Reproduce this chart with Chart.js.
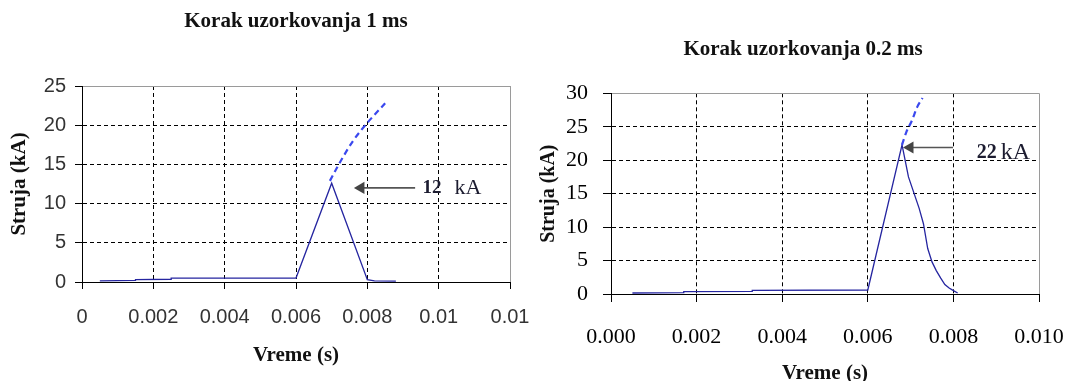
<!DOCTYPE html>
<html lang="sr">
<head>
    <meta charset="UTF-8">
    <title>Korak uzorkovanja</title>
    <script src="https://cdn.jsdelivr.net/npm/chart.js"></script>
    <style>
        body { margin: 0; background: #fff; }
        .wrap { position: relative; width: 1069px; height: 381px; overflow: hidden; }
        .box { position: absolute; top: 0; height: 381px; }
        #leftBox { left: 0; width: 535px; }
        #rightBox { left: 535px; width: 534px; }
    </style>
</head>
<body>
<div class="wrap">
    <div class="box" id="leftBox"><canvas id="leftChart" width="535" height="381"></canvas></div>
    <div class="box" id="rightBox"><canvas id="rightChart" width="534" height="381"></canvas></div>
</div>
<script>
// ---- left chart: 1 ms step ----
const leftTitle = 'Korak uzorkovanja 1 ms';
const leftTime = [0.0005, 0.0015, 0.0015, 0.0025, 0.0025, 0.006, 0.007, 0.008, 0.0082, 0.0088];
const leftCurrent = [0.15, 0.2, 0.3, 0.35, 0.5, 0.5, 12.6, 0.3, 0.15, 0.12];
const leftExtTime = [0.00695, 0.0072, 0.0076, 0.008, 0.0085];
const leftExtCurrent = [12.9, 15.0, 18.0, 20.3, 22.8];
const leftArrowX = [0.00934, 0.00782];
const leftArrowY = [12, 12];
const leftXTicks = [0, 0.002, 0.004, 0.006, 0.008, 0.010, 0.012];
const leftXLabels = ['0', '0.002', '0.004', '0.006', '0.008', '0.01', '0.01'];
const leftYMax = 25;

// ---- right chart: 0.2 ms step ----
const rightTitle = 'Korak uzorkovanja 0.2 ms';
const rightTime = [0.0005, 0.0017, 0.0017, 0.0033, 0.0033, 0.006, 0.0068, 0.00695, 0.0072, 0.0073, 0.0074, 0.0075, 0.0076, 0.0077, 0.0078, 0.0079, 0.008, 0.0081];
const rightCurrent = [0.15, 0.2, 0.35, 0.4, 0.55, 0.6, 22.3, 17.5, 12.8, 10.5, 6.8, 4.8, 3.5, 2.4, 1.4, 0.9, 0.5, 0.15];
const rightExtTime = [0.0068, 0.0069, 0.00703, 0.00715, 0.00728];
const rightExtCurrent = [22.3, 24.2, 25.9, 27.9, 29.3];
const rightArrowX = [0.00799, 0.006986];
const rightArrowY = [21.9, 21.9];
const rightXTicks = [0, 0.002, 0.004, 0.006, 0.008, 0.010];
const rightXLabels = ['0.000', '0.002', '0.004', '0.006', '0.008', '0.010'];
const rightYMax = 30;

const xTitle = 'Vreme (s)';
const yTitle = 'Struja (kA)';

const serif = '"Liberation Serif", "Times New Roman", serif';
const sans = '"Liberation Sans", Arial, sans-serif';

function pts(xs, ys) {
    return xs.map((v, i) => ({ x: v, y: ys[i] }));
}

// text next to the arrow ("12 kA")
const notePlugin = {
    id: 'note',
    afterDatasetsDraw(chart, args, opts) {
        const ctx = chart.ctx;
        const px = chart.scales.x.getPixelForValue(opts.x);
        const py = chart.scales.y.getPixelForValue(opts.y);
        ctx.save();
        ctx.textBaseline = 'middle';
        ctx.textAlign = 'left';
        ctx.fillStyle = '#1c1c30';
        ctx.font = 'bold ' + opts.numSize + 'px ' + serif;
        ctx.fillText(opts.value, px, py);
        const w = ctx.measureText(opts.value).width;
        ctx.font = opts.unitSize + 'px ' + serif;
        ctx.fillText(opts.unit, px + w + opts.gap, py);
        ctx.restore();
    }
};

function makeChart(id, c) {
    const ctx = document.getElementById(id).getContext('2d');
    return new Chart(ctx, {
        type: 'scatter',
        data: {
            datasets: [
                {
                    data: pts(c.extX, c.extY),
                    showLine: true,
                    borderColor: '#3a48ee',
                    borderWidth: 2.2,
                    borderDash: [6, 4],
                    pointRadius: 0,
                    cubicInterpolationMode: 'monotone'
                },
                {
                    data: pts(c.solidX, c.solidY),
                    showLine: true,
                    borderColor: '#2525a0',
                    borderWidth: 1.3,
                    pointRadius: 0
                },
                {
                    data: pts(c.arrowX, c.arrowY),
                    showLine: true,
                    borderColor: '#555555',
                    borderWidth: 1.6,
                    pointStyle: 'triangle',
                    pointRotation: -90,
                    pointRadius: [0, 7],
                    pointBackgroundColor: '#444444',
                    pointBorderWidth: 0
                }
            ]
        },
        options: {
            responsive: false,
            animation: false,
            devicePixelRatio: 1,
            layout: { padding: { left: c.padLeft, top: 0, bottom: 0, right: c.padRight } },
            plugins: {
                legend: { display: false },
                tooltip: { enabled: false },
                title: {
                    display: true,
                    text: c.title,
                    color: '#111',
                    fullSize: c.titleFull,
                    font: { family: serif, size: 21, weight: 'bold', lineHeight: 1 },
                    padding: { top: c.titleTop, bottom: c.titleBottom }
                },
                note: c.note
            },
            scales: {
                x: {
                    type: 'linear',
                    min: 0,
                    max: c.xMax,
                    afterBuildTicks: s => { s.ticks = c.xTicks.map(v => ({ value: v })); },
                    afterFit: s => { s.height = c.xHeight; },
                    ticks: {
                        autoSkip: false,
                        maxRotation: 0,
                        minRotation: 0,
                        color: c.tickColor,
                        padding: 0,
                        // tall line height pushes the labels down without widening the side padding
                        font: { family: c.tickFont, size: c.tickSize, lineHeight: c.xLabelLine },
                        callback: (v, i) => c.xLabels[i]
                    },
                    grid: {
                        color: g => (g.tick && g.tick.value >= c.xMax - 1e-9) ? '#9a9a9a' : '#000',
                        tickColor: '#000',
                        tickLength: c.tickLen,
                        lineWidth: 1
                    },
                    border: {
                        color: '#000',
                        width: 1,
                        dash: g => (g.tick && g.tick.value >= c.xMax - 1e-9) ? [] : [4, 3]
                    },
                    title: {
                        display: true,
                        text: xTitle,
                        color: '#111',
                        font: { family: serif, size: 21, weight: 'bold', lineHeight: 1 },
                        padding: { top: 0, bottom: c.xTitlePad }
                    }
                },
                y: {
                    min: 0,
                    max: c.yMax,
                    afterFit: s => { s.width = c.yWidth; },
                    ticks: {
                        stepSize: 5,
                        color: c.tickColor,
                        padding: c.yPad,
                        font: { family: c.tickFont, size: c.tickSize, lineHeight: 1 },
                    },
                    grid: {
                        color: g => (g.tick && g.tick.value >= c.yMax) ? '#9a9a9a' : '#000',
                        tickColor: '#000',
                        tickLength: c.tickLen,
                        lineWidth: 1
                    },
                    border: {
                        color: '#000',
                        width: 1,
                        dash: g => (g.tick && g.tick.value >= c.yMax) ? [] : [4, 3]
                    },
                    title: {
                        display: true,
                        text: yTitle,
                        color: '#111',
                        font: { family: serif, size: c.yTitleSize, weight: 'bold', lineHeight: 1 },
                        padding: { top: c.yTitlePad, bottom: 0 }
                    }
                }
            }
        },
        plugins: [notePlugin]
    });
}

makeChart('leftChart', {
    title: leftTitle, titleFull: false, titleTop: 11, titleBottom: 54,
    solidX: leftTime, solidY: leftCurrent,
    extX: leftExtTime, extY: leftExtCurrent,
    arrowX: leftArrowX, arrowY: leftArrowY,
    xMax: 0.012, xTicks: leftXTicks, xLabels: leftXLabels, yMax: leftYMax,
    padLeft: 0, padRight: 25, xHeight: 99, yWidth: 82,
    tickFont: sans, tickSize: 20, tickColor: '#333', tickLen: 7,
    xLabelLine: 2.8, yPad: 9, xTitlePad: 14.5, yTitlePad: 9.5, yTitleSize: 21,
    note: { x: 0.00955, y: 12, value: '12', unit: 'kA', numSize: 19, unitSize: 22, gap: 13 }
});

makeChart('rightChart', {
    title: rightTitle, titleFull: true, titleTop: 39.5, titleBottom: 32.8,
    solidX: rightTime, solidY: rightCurrent,
    extX: rightExtTime, extY: rightExtCurrent,
    arrowX: rightArrowX, arrowY: rightArrowY,
    xMax: 0.010, xTicks: rightXTicks, xLabels: rightXLabels, yMax: rightYMax,
    padLeft: 32, padRight: 30, xHeight: 87, yWidth: 44,
    tickFont: serif, tickSize: 22, tickColor: '#000', tickLen: 8,
    xLabelLine: 3.2, yPad: 15, xTitlePad: -3.5, yTitlePad: -28, yTitleSize: 20,
    note: { x: 0.008545, y: 21.1, value: '22', unit: 'kA', numSize: 20, unitSize: 24, gap: 4 }
});
</script>
</body>
</html>
